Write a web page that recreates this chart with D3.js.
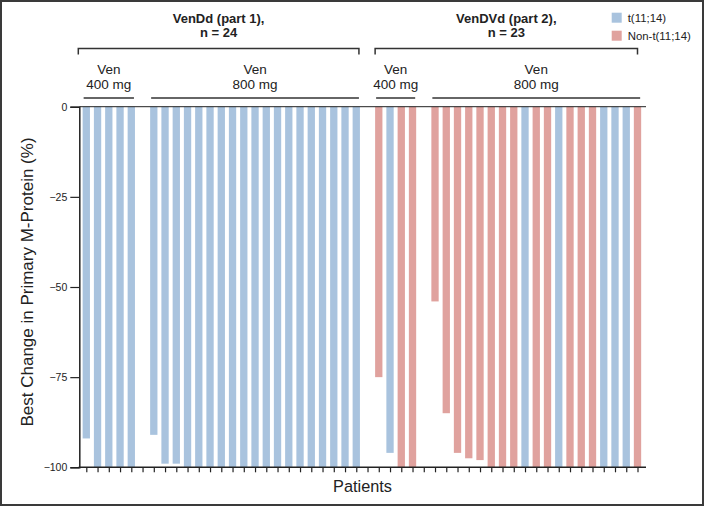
<!DOCTYPE html>
<html>
<head>
<meta charset="utf-8">
<script src="https://cdn.jsdelivr.net/npm/d3@7"></script>
<style>
  html, body { margin: 0; padding: 0; background: #fff; }
  svg { display: block; font-family: Arial, "Liberation Sans", sans-serif; }
</style>
</head>
<body>
<svg id="chart" width="704" height="507"></svg>
<script>
// ---------------- DATA ----------------
const groupTitles = ["VenDd (part 1),", "VenDVd (part 2),"];
const groupCounts = ["n = 24", "n = 23"];
const doseTop = "Ven";
const doseLabels = ["400 mg", "800 mg"];

// Part 1 (VenDd), all t(11;14)
const p1Dose400Values = [-92, -100, -100, -100, -100];
const p1Dose400Types  = ["t", "t", "t", "t", "t"];
const p1Dose800Values = [-91, -99, -99, -100, -100, -100, -100, -100, -100, -100,
                         -100, -100, -100, -100, -100, -100, -100, -100, -100];
const p1Dose800Types  = ["t","t","t","t","t","t","t","t","t","t",
                         "t","t","t","t","t","t","t","t","t"];
// Part 2 (VenDVd)
const p2Dose400Values = [-75, -96, -100, -100];
const p2Dose400Types  = ["non", "t", "non", "non"];
const p2Dose800Values = [-54, -85, -96, -97.5, -98, -100, -100, -100, -100, -100,
                         -100, -100, -100, -100, -100, -100, -100, -100, -100];
const p2Dose800Types  = ["non","non","non","non","non","non","non","non","t","non",
                         "non","t","non","non","non","t","t","t","non"];

const legendLabels = ["t(11;14)", "Non-t(11;14)"];
const yTicks = [0, -25, -50, -75, -100];
const yTitle = "Best Change in Primary M-Protein (%)";
const xTitle = "Patients";

// ---------------- BUILD SLOTS ----------------
const colors = { t: "#a9c3de", non: "#e0a29e" };
const subgroups = [
  { part: 0, dose: 0, values: p1Dose400Values, types: p1Dose400Types },
  { part: 0, dose: 1, values: p1Dose800Values, types: p1Dose800Types },
  { part: 1, dose: 0, values: p2Dose400Values, types: p2Dose400Types },
  { part: 1, dose: 1, values: p2Dose800Values, types: p2Dose800Types }
];
const slots = [];   // all x positions (bars and spacers)
const bars = [];
let pid = 0;
subgroups.forEach((g, gi) => {
  g.keys = [];
  g.values.forEach((v, i) => {
    const key = "P" + (++pid);
    slots.push(key);
    g.keys.push(key);
    bars.push({ key, value: v, type: g.types[i] });
  });
  if (gi < subgroups.length - 1) slots.push("gap" + gi);
});

// ---------------- SCALES ----------------
const svg = d3.select("#chart");
const x = d3.scalePoint().domain(slots).range([86.3, 637.5]);
const bw = x.step() * 0.65;
const y = d3.scaleLinear().domain([-100, 0]).range([467.3, 106.7]);
const axisLeftX = 79.3, axisRightX = 646;
const ink = "#222";

// frame
svg.append("rect").attr("x", 1).attr("y", 1).attr("width", 702).attr("height", 504)
  .attr("fill", "none").attr("stroke", "#3a3a3a").attr("stroke-width", 2);

// bars
svg.append("g").selectAll("rect").data(bars).join("rect")
  .attr("x", d => x(d.key) - bw / 2)
  .attr("y", y(0))
  .attr("width", bw)
  .attr("height", d => y(d.value) - y(0))
  .attr("fill", d => colors[d.type]);

// zero line
svg.append("line").attr("x1", axisLeftX).attr("x2", axisRightX)
  .attr("y1", y(0)).attr("y2", y(0)).attr("stroke", ink).attr("stroke-width", 1);

// y axis
const yAxis = svg.append("g").attr("transform", `translate(${axisLeftX},0)`)
  .call(d3.axisLeft(y).tickValues(yTicks).tickSize(9).tickPadding(3)
    .tickFormat(d => d === 0 ? "0" : "\u2212" + Math.abs(d)));
yAxis.select(".domain").attr("stroke", ink).attr("stroke-width", 1.5);
yAxis.selectAll(".tick line").attr("stroke", ink).attr("stroke-width", 1.2);
yAxis.selectAll("text").attr("font-size", 10.5).attr("fill", ink)
  .attr("font-family", "Arial, 'Liberation Sans', sans-serif");

// x axis
const xAxis = svg.append("g").attr("transform", `translate(0,${y(-100)})`)
  .call(d3.axisBottom(x).tickSize(5).tickFormat(""));
xAxis.select(".domain").remove();
xAxis.selectAll(".tick line").attr("stroke", ink).attr("stroke-width", 1.2);
svg.append("line").attr("x1", axisLeftX - 0.7).attr("x2", axisRightX)
  .attr("y1", y(-100)).attr("y2", y(-100)).attr("stroke", ink).attr("stroke-width", 1.5);

// axis titles
svg.append("text").attr("transform", `translate(32.5,282) rotate(-90)`)
  .attr("text-anchor", "middle").attr("font-size", 17).attr("fill", ink).text(yTitle);
svg.append("text").attr("x", 362.5).attr("y", 492).attr("text-anchor", "middle")
  .attr("font-size", 16.3).attr("fill", ink).text(xTitle);

// group brackets and titles
const lineColor = "#333";
[0, 1].forEach(part => {
  const gs = subgroups.filter(g => g.part === part);
  const firstKey = gs[0].keys[0];
  const lastKey = gs[gs.length - 1].keys[gs[gs.length - 1].keys.length - 1];
  const bx1 = part === 0 ? axisLeftX - 1 : x(firstKey) - bw / 2;
  const bx2 = part === 0 ? x(lastKey) + bw / 2 - 1 : x(lastKey);
  const by = 48.5;
  svg.append("path")
    .attr("d", `M${bx1},${by + 6}V${by}H${bx2}V${by + 6}`)
    .attr("fill", "none").attr("stroke", lineColor).attr("stroke-width", 1.5);
  const cx = (bx1 + bx2) / 2;
  const t = svg.append("text").attr("text-anchor", "middle").attr("font-size", 13)
    .attr("font-weight", "bold").attr("fill", ink);
  t.append("tspan").attr("x", cx).attr("y", 22.5).text(groupTitles[part]);
  t.append("tspan").attr("x", cx).attr("y", 36.5).text(groupCounts[part]);

  gs.forEach(g => {
    const lx1 = x(g.keys[0]) - bw / 2 + 1;
    const lx2 = x(g.keys[g.keys.length - 1]) + bw / 2 - 1;
    svg.append("line").attr("x1", lx1).attr("x2", lx2).attr("y1", 98).attr("y2", 98)
      .attr("stroke", lineColor).attr("stroke-width", 1.5);
    const c = (lx1 + lx2) / 2;
    const dt = svg.append("text").attr("text-anchor", "middle").attr("font-size", 13.5).attr("fill", ink);
    dt.append("tspan").attr("x", c).attr("y", 74).text(doseTop);
    dt.append("tspan").attr("x", c).attr("y", 89).text(doseLabels[g.dose]);
  });
});

// legend
const leg = svg.append("g");
["t", "non"].forEach((k, i) => {
  leg.append("rect").attr("x", 611.7).attr("y", 12.7 + i * 18).attr("width", 10).attr("height", 10)
    .attr("fill", colors[k]);
  leg.append("text").attr("x", 627.7).attr("y", 21.5 + i * 18).attr("font-size", 11.4)
    .attr("fill", ink).text(legendLabels[i]);
});
</script>
</body>
</html>
